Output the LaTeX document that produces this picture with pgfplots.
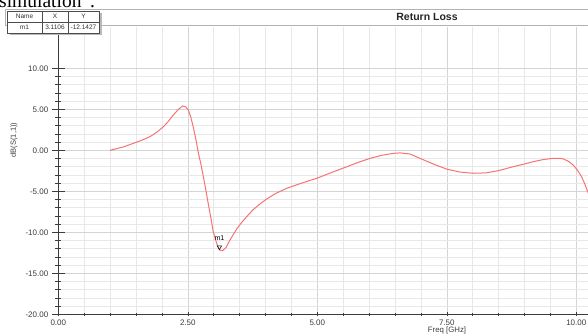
\documentclass[border=0pt]{standalone}
\usepackage{pgfplots}
\pgfplotsset{compat=1.18}
\usepackage{fontspec}
\setmainfont{Liberation Sans}
\newfontfamily\seriffont{Liberation Serif}
\definecolor{curve}{RGB}{245,115,115}
\definecolor{axcol}{RGB}{60,60,60}
\definecolor{majgrid}{RGB}{212,212,212}
\definecolor{mingrid}{RGB}{232,232,232}
\pgfplotsset{
  commonax/.style={
    at={(58.3pt,21.7pt)}, anchor=south west,
    x=51.8pt, y=8.2pt,
    xmin=0, xmax=10.4, ymin=-20, ymax=15,
    xtick={0,2.5,5,7.5,10}, minor x tick num=4,
    ytick={-20,-15,-10,-5,0,5,10}, minor y tick num=4,
    tick align=outside,
    axis line style={-, axcol, line width=0.7pt},
    tick style={axcol, line width=0.6pt},
    tick label style={font=\fontsize{8}{9}\selectfont, text=axcol,
      /pgf/number format/fixed, /pgf/number format/fixed zerofill,
      /pgf/number format/precision=2, /pgf/number format/assume math mode=true},
  }
}
\begin{document}
\begin{tikzpicture}
\useasboundingbox (0pt,0pt) rectangle (588pt,336pt);
\node[anchor=base west, inner sep=0pt, font=\seriffont\fontsize{19.5}{20}\selectfont] at (-1pt,328.5pt) {simulation”.};
% main axis: grid, data, x ticks
\begin{axis}[commonax,
  axis x line=bottom, axis y line=left,
  grid=both,
  major grid style={majgrid, line width=0.6pt},
  minor grid style={mingrid, line width=0.5pt},
  major tick length=4pt, minor tick length=2.5pt,
  ytick style={draw=none}, yticklabels={},
  clip=true,
]
\addplot[curve, line width=1.0pt] coordinates {
(1.00,0.00) (1.25,0.40) (1.45,0.85) (1.60,1.20) (1.77,1.66) (1.90,2.20)
(2.03,2.88) (2.12,3.50) (2.22,4.30) (2.32,5.00) (2.40,5.40) (2.46,5.30)
(2.51,4.90) (2.56,4.00) (2.61,2.70) (2.66,1.20) (2.70,-0.20) (2.75,-1.60)
(2.80,-3.20) (2.85,-4.90) (2.90,-6.70) (2.95,-8.40) (2.99,-9.90) (3.04,-11.00)
(3.08,-11.75) (3.11,-12.14) (3.17,-12.25) (3.24,-11.85) (3.30,-11.10)
(3.38,-10.25) (3.46,-9.45) (3.54,-8.80) (3.65,-8.00) (3.76,-7.25)
(3.89,-6.55) (4.02,-5.95) (4.20,-5.25) (4.41,-4.63) (4.70,-4.00)
(4.99,-3.41) (5.28,-2.70) (5.57,-2.00) (5.80,-1.45) (6.02,-0.98)
(6.25,-0.60) (6.47,-0.37) (6.60,-0.32) (6.79,-0.45) (6.98,-0.98)
(7.25,-1.70) (7.50,-2.30) (7.75,-2.65) (8.01,-2.80) (8.27,-2.75)
(8.52,-2.45) (8.78,-2.00) (8.98,-1.70) (9.17,-1.39) (9.37,-1.12)
(9.56,-0.98) (9.68,-0.98) (9.75,-1.06) (9.85,-1.35) (9.94,-1.80)
(10.02,-2.40) (10.10,-3.20) (10.16,-4.05) (10.22,-5.05) (10.30,-6.40)
};
\addplot[only marks, mark=triangle, mark size=2.6pt,
  mark options={rotate=180, black, line width=0.5pt}] coordinates {(3.1106,-11.80)};
\node[font=\fontsize{7}{7}\selectfont, text=black, inner sep=0pt] at (axis cs:3.1106,-10.7) {m1};
\end{axis}
% second axis: long y ticks and y tick labels
\begin{axis}[commonax,
  axis x line=none, axis y line=left,
  major tick length=13pt, minor tick length=6pt,
  xtick=\empty,
]
\end{axis}
% axis labels
\node[rotate=90, font=\fontsize{7.5}{8}\selectfont, text=axcol] at (14pt,196pt) {dB(S(1,1))};
\node[font=\fontsize{7.8}{8}\selectfont, text=axcol] at (447pt,6pt) {Freq [GHz]};
% title bar
\draw[gray!60, line width=0.6pt, fill=white] (5pt,310.7pt) rectangle (620pt,326.7pt);
\node[font=\bfseries\fontsize{10.5}{12}\selectfont, text=black!85] at (427pt,319pt) {Return Loss};
% marker table
\fill[gray!55] (9.5pt,300.5pt) rectangle (101.5pt,322.5pt);
\draw[gray!60!black, line width=0.6pt, fill=white] (7pt,303pt) rectangle (99pt,325pt);
\draw[gray!60!black, line width=0.5pt] (7pt,314pt) -- (99pt,314pt)
  (42pt,303pt) -- (42pt,325pt) (68pt,303pt) -- (68pt,325pt);
\begin{scope}[every node/.style={font=\fontsize{6.5}{7}\selectfont, text=black!80, inner sep=0pt}]
\node at (24.5pt,319.5pt) {Name};
\node at (55pt,319.5pt) {X};
\node at (83.5pt,319.5pt) {Y};
\node at (24.5pt,308.5pt) {m1};
\node at (55pt,308.5pt) {3.1106};
\node at (83.5pt,308.5pt) {-12.1427};
\end{scope}
\end{tikzpicture}
\end{document}
